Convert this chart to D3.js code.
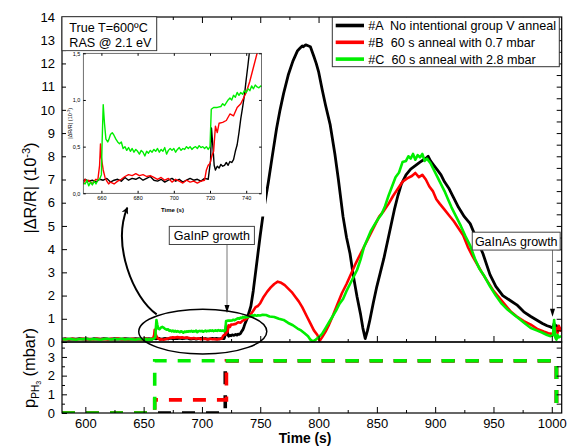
<!DOCTYPE html>
<html>
<head>
<meta charset="utf-8">
<script src="https://cdn.jsdelivr.net/npm/d3@7/dist/d3.min.js"></script>
<style>
  body { margin: 0; background: #fff; }
  svg { display: block; font-family: "Liberation Sans", Arial, sans-serif; }
</style>
</head>
<body>
<svg id="chart" width="568" height="446"></svg>
<script>
// RAS transients |ΔR/R| (10^-3) vs time (s), three anneal conditions
const seriesA = [
  [580,.12],[583,.14],[586,.11],[589,.13],[592,.12],[595,.15],[598,.12],[601,.13],[604,.11],[607,.14],
  [610,.13],[613,.12],[616,.15],[619,.13],[622,.12],[625,.14],[628,.13],[631,.12],[634,.14],[637,.13],
  [640,.12],[643,.14],[646,.13],[649,.12],[651,.15],[653,.13],[655,.14],[657,.12],[659,.15],[661,.14],
  [663,.16],[665,.12],[667,.14],[669,.15],[671,.13],[673,.17],[675,.14],[677,.16],[679,.15],[681,.17],
  [683,.14],[685,.16],[687,.18],[689,.14],[691,.13],[693,.15],[695,.12],[697,.14],[699,.16],[701,.13],
  [703,.15],[705,.12],[707,.14],[709,.16],[711,.14],[713,.15],[715,.13],[717,.16],[719,.15],[720.3,.35],
  [720.8,.7],[721.6,.5],[722.3,.3],[723,.25],[724,.29],[725,.27],[726,.31],[727,.29],[728,.3],[729,.33],
  [730,.3],[731,.34],[732,.33],[733,.36],[734,.45],[735,.52],[736,.65],[737,.8],[738,.92],[739,1.05],
  [740,1.22],[741,1.38],[742,1.55],[744,2.2],[746,3.0],[748,3.8],[750,4.6],[753,5.7],[757,6.9],[760,7.9],
  [764,9.2],[767,10.0],[770,10.7],[774,11.5],[778,12.1],[782,12.55],[784,12.65],[786,12.75],[787,12.72],
  [789,12.8],[791,12.76],[793,12.72],[796,12.3],[798,12.0],[800,11.65],[803,10.9],[806,10.2],[810,9.35],
  [814,8.1],[817,7.0],[821,5.4],[824,4.5],[827,3.8],[830,2.8],[833,1.95],[836,1.2],[838,0.6],[840,0.15],
  [842,0.5],[844,0.95],[847,1.7],[850,2.4],[853,3.0],[856,3.6],[859,4.3],[862,5.0],[865,5.7],[868,6.3],
  [871,6.8],[875,7.2],[879,7.45],[883,7.6],[887,7.75],[890,7.85],[892,7.9],[894,8.0],[896,7.8],[899,7.6],
  [902,7.4],[905,7.2],[908,6.9],[912,6.6],[916,6.2],[920,5.8],[925,5.4],[930,5.1],[935,4.5],[941,3.8],
  [947,2.9],[952,2.4],[958,2.0],[964,1.8],[970,1.6],[976,1.3],[982,1.1],[987,0.95],[992,0.8],[996,0.7],
  [999,0.65],[1001,0.6],[1002,0.8],[1003,0.4],[1004,0.7],[1005,0.5],[1006,0.6],[1008,0.55]
];

const seriesB = [
  [580,.11],[583,.13],[586,.12],[589,.14],[592,.11],[595,.13],[598,.14],[601,.12],[604,.13],[607,.11],
  [610,.14],[613,.12],[616,.13],[619,.11],[622,.14],[625,.12],[628,.15],[631,.12],[634,.13],[637,.11],
  [640,.14],[643,.12],[646,.13],[649,.11],[650,.1],[651,.15],[652,.12],[653,.14],[654,.12],[655,.1],
  [656,.13],[657,.15],[658,.14],[659,.3],[659.5,.53],[660,.38],[661,.25],[662,.17],[663,.13],[664,.1],
  [665,.12],[667,.1],[669,.13],[671,.15],[673,.18],[675,.2],[677,.19],[679,.21],[681,.19],[683,.2],
  [685,.18],[687,.19],[689,.17],[691,.15],[693,.17],[695,.14],[697,.16],[699,.12],[701,.15],[703,.13],
  [705,.11],[707,.14],[709,.12],[711,.13],[713,.11],[715,.13],[717,.14],[718,.25],[719,.3],[720,.32],
  [721,.4],[722,.45],[723,.72],[724,.65],[725,.75],[727,.76],[729,.78],[731,.85],[733,.83],[735,.92],
  [737,.96],[738,1.0],[740,1.08],[742,1.2],[744,1.35],[746,1.5],[748,1.55],[750,1.67],[753,1.95],[756,2.17],
  [759,2.35],[762,2.5],[765,2.6],[768,2.55],[771,2.45],[774,2.3],[777,2.15],[780,1.95],[783,1.75],[786,1.5],
  [790,1.1],[793,0.8],[796,0.5],[799,0.3],[801,0.05],[803,0.2],[806,0.45],[809,0.75],[812,1.1],[816,1.6],
  [820,2.1],[824,2.5],[828,2.95],[832,3.4],[836,3.8],[840,4.2],[844,4.6],[848,5.0],[852,5.4],[856,5.65],
  [860,5.95],[864,6.3],[868,6.6],[872,6.9],[876,7.05],[880,7.15],[883,7.28],[886,7.1],[889,7.2],[892,7.0],
  [895,6.7],[898,6.5],[901,6.15],[904,5.95],[908,5.7],[912,5.45],[916,5.2],[920,4.9],[924,4.6],[928,4.1],
  [932,3.7],[936,3.35],[940,3.0],[945,2.6],[950,2.2],[955,1.9],[960,1.6],[965,1.3],[970,1.1],[976,0.9],
  [982,0.75],[988,0.55],[993,0.45],[997,0.38],[1000,0.35],[1002,0.3],[1004,0.6],[1005,0.4],[1006,0.7],[1008,0.45]
];

const seriesC = [
  [580,.13],[583,.11],[586,.14],[589,.12],[592,.1],[595,.13],[598,.12],[601,.14],[604,.11],[607,.13],
  [610,.12],[613,.1],[616,.13],[619,.14],[622,.11],[625,.13],[628,.12],[631,.14],[634,.11],[637,.13],
  [640,.12],[643,.1],[646,.13],[649,.12],[651,.1],[652,.14],[653,.08],[654,.12],[655,.09],[656,.13],
  [657,.1],[658,.14],[659,.15],[660,.2],[660.4,.55],[661,.95],[661.7,.75],[662.5,.58],[663.5,.55],[664,.57],
  [665,.63],[666,.65],[667,.62],[668,.58],[669,.55],[670,.53],[671,.55],[672,.48],[673,.5],[674,.46],
  [675,.49],[676,.45],[677,.48],[678,.44],[679,.47],[680,.45],[681,.42],[682,.46],[683,.44],[684,.4],
  [685,.45],[686,.43],[687,.46],[688,.44],[689,.47],[690,.45],[691,.48],[692,.44],[693,.47],[694,.45],
  [695,.49],[696,.42],[697,.46],[698,.48],[699,.46],[700,.48],[701,.44],[702,.47],[703,.49],[704,.46],
  [705,.48],[706,.47],[707,.5],[708,.48],[709,.5],[710,.47],[711,.49],[712,.5],[713,.48],[714,.51],
  [715,.49],[716,.5],[717,.48],[718,.5],[719,.47],[720,.5],[720.7,.9],[722,.92],[724,.92],[726,.93],
  [727,.96],[728,.94],[730,1.0],[731,1.02],[732,1.0],[733,1.05],[734,1.03],[735,1.08],[736,1.05],[737,1.08],
  [738,1.06],[739,1.1],[740,1.08],[741,1.12],[742,1.1],[743,1.15],[744,1.12],[745,1.16],[746,1.14],[747,1.13],
  [748,1.15],[750,1.14],[752,1.17],[755,1.16],[758,1.1],[762,1.08],[766,1.0],[770,0.95],[774,0.82],[778,0.72],
  [782,0.58],[785,0.5],[788,0.38],[791,0.25],[793,0.1],[795,0.03],[797,0.08],[800,0.2],[803,0.35],[806,0.6],
  [809,0.85],[812,1.1],[815,1.35],[818,1.65],[821,1.85],[824,2.2],[827,2.5],[830,2.8],[833,3.1],[836,3.55],
  [839,4.1],[842,4.45],[845,4.8],[848,5.05],[851,5.3],[854,5.5],[857,5.85],[860,6.3],[863,6.7],[866,7.1],
  [869,7.3],[872,7.75],[875,7.8],[877,8.0],[879,7.9],[881,8.1],[883,7.85],[885,8.05],[887,7.95],[889,8.1],
  [891,7.8],[893,7.9],[896,7.7],[899,7.4],[902,7.1],[905,6.8],[908,6.5],[911,6.15],[914,5.8],[918,5.4],
  [922,5.0],[926,4.55],[930,4.15],[934,3.6],[938,3.15],[942,2.85],[947,2.4],[952,2.0],[957,1.65],[962,1.4],
  [967,1.2],[972,1.0],[977,0.8],[982,0.6],[987,0.5],[992,0.4],[996,0.3],[999,0.25],[1001,0.3],[1002,0.95],
  [1003,0.2],[1004,0.1],[1005,0.3],[1006,0.2],[1008,0.25]
];

// PH3 partial pressure steps (mbar)
const pressureA = [[580,0],[720,0],[720,2.8],[1004,2.8],[1004,0]];
const pressureB = [[580,0],[659.5,0],[659.5,0.7],[721,0.7],[721,2.8],[1004,2.8],[1004,0]];
const pressureC = [[580,0],[659.5,0],[659.5,2.8],[1004,2.8],[1004,0]];

const seriesNames = ["#A  No intentional group V anneal", "#B  60 s anneal with 0.7 mbar", "#C  60 s anneal with 2.8 mbar"];
const seriesColors = ["#000000", "#ff0000", "#00ee00"];

const xTicks = [600, 650, 700, 750, 800, 850, 900, 950, 1000];
const xMinorTicks = [625, 675, 725, 775, 825, 875, 925, 975];
const yTopTicks = d3.range(0, 15, 1);
const yBotTicks = [0, 1, 2, 3];
const insetXTicks = [660, 680, 700, 720, 740];
const insetYTicks = [0, 0.5, 1.0, 1.5];

const svg = d3.select("#chart");

// layout
const L = 62, R = 561.7, T = 17, MID = 342, B = 413;
const x = d3.scaleLinear().domain([580, 1008.5]).range([L, R]);
const yTop = d3.scaleLinear().domain([0, 14]).range([MID, T]);
const yBot = d3.scaleLinear().domain([0, 3.8]).range([B, MID]);

const defs = svg.append("defs");
defs.append("clipPath").attr("id", "clipTop")
  .append("rect").attr("x", L).attr("y", T).attr("width", R - L).attr("height", MID - T);
defs.append("clipPath").attr("id", "clipBot")
  .append("rect").attr("x", L).attr("y", MID).attr("width", R - L).attr("height", B - MID);
defs.append("marker").attr("id", "bigHead").attr("viewBox", "0 0 10 10")
  .attr("refX", 9).attr("refY", 5).attr("markerWidth", 9).attr("markerHeight", 7)
  .attr("markerUnits", "userSpaceOnUse").attr("orient", "auto")
  .append("path").attr("d", "M0,0 L10,5 L0,10 L3,5 Z").attr("fill", "#000");

// main transients
const lineTop = d3.line().x(d => x(d[0])).y(d => yTop(d[1]));
const gTop = svg.append("g").attr("clip-path", "url(#clipTop)");
[seriesA, seriesB, seriesC].forEach((s, i) => {
  gTop.append("path").datum(s).attr("d", lineTop)
    .attr("fill", "none").attr("stroke", seriesColors[i])
    .attr("stroke-width", i === 0 ? 2.8 : 2.6).attr("stroke-linejoin", "round");
});

// pressure steps
const lineBot = d3.line().x(d => x(d[0])).y(d => yBot(d[1]));
const gBot = svg.append("g").attr("clip-path", "url(#clipBot)");
[pressureA, pressureB, pressureC].forEach((s, i) => {
  gBot.append("path").datum(s).attr("d", lineBot)
    .attr("fill", "none").attr("stroke", seriesColors[i])
    .attr("stroke-width", 3.6).attr("stroke-dasharray", "13,11");
});

// frames
svg.append("rect").attr("x", L).attr("y", T).attr("width", R - L).attr("height", MID - T)
  .attr("fill", "none").attr("stroke", "#000").attr("stroke-width", 1.2);
svg.append("rect").attr("x", L).attr("y", MID).attr("width", R - L).attr("height", B - MID)
  .attr("fill", "none").attr("stroke", "#000").attr("stroke-width", 1.2);

function styleAxis(g, fs) {
  g.select(".domain").remove();
  g.selectAll("line").attr("stroke", "#000");
  g.selectAll("text").attr("font-size", fs).attr("fill", "#000")
    .attr("font-family", "'Liberation Sans', Arial, sans-serif");
}
const intFmt = d3.format("d");

// x axes (bottom labelled, others tick-only)
styleAxis(svg.append("g").attr("transform", `translate(0,${B})`)
  .call(d3.axisBottom(x).tickValues(xTicks).tickSize(-6).tickPadding(5.6).tickFormat(intFmt).tickSizeOuter(0)), 13);
styleAxis(svg.append("g").attr("transform", `translate(0,${B})`)
  .call(d3.axisBottom(x).tickValues(xMinorTicks).tickSize(-3).tickFormat("").tickSizeOuter(0)), 13);
styleAxis(svg.append("g").attr("transform", `translate(0,${MID})`)
  .call(d3.axisBottom(x).tickValues(xTicks).tickSize(-6).tickFormat("").tickSizeOuter(0)), 13);
styleAxis(svg.append("g").attr("transform", `translate(0,${MID})`)
  .call(d3.axisBottom(x).tickValues(xMinorTicks).tickSize(-3).tickFormat("").tickSizeOuter(0)), 13);
styleAxis(svg.append("g").attr("transform", `translate(0,${T})`)
  .call(d3.axisTop(x).tickValues(xTicks).tickSize(-6).tickFormat("").tickSizeOuter(0)), 13);
styleAxis(svg.append("g").attr("transform", `translate(0,${T})`)
  .call(d3.axisTop(x).tickValues(xMinorTicks).tickSize(-3).tickFormat("").tickSizeOuter(0)), 13);

// y axes
styleAxis(svg.append("g").attr("transform", `translate(${L},0)`)
  .call(d3.axisLeft(yTop).tickValues(yTopTicks).tickSize(-5).tickPadding(7).tickFormat(intFmt).tickSizeOuter(0)), 13);
styleAxis(svg.append("g").attr("transform", `translate(${L},0)`)
  .call(d3.axisLeft(yBot).tickValues(yBotTicks).tickSize(-5).tickPadding(7).tickFormat(intFmt).tickSizeOuter(0)), 13);
styleAxis(svg.append("g").attr("transform", `translate(${L},0)`)
  .call(d3.axisLeft(yBot).tickValues([0.5, 1.5, 2.5, 3.5]).tickSize(-3).tickFormat("").tickSizeOuter(0)), 13);
styleAxis(svg.append("g").attr("transform", `translate(${R},0)`)
  .call(d3.axisRight(yTop).tickValues(d3.range(0.5, 14, 0.5)).tickSize(-5).tickFormat("").tickSizeOuter(0)), 13);
styleAxis(svg.append("g").attr("transform", `translate(${R},0)`)
  .call(d3.axisRight(yBot).tickValues([0.5, 1, 1.5, 2, 2.5, 3, 3.5]).tickSize(-5).tickFormat("").tickSizeOuter(0)), 13);

// axis titles
svg.append("text").attr("x", 305).attr("y", 443).attr("text-anchor", "middle")
  .attr("font-size", 13.8).attr("font-weight", "bold").text("Time (s)");

const yl = svg.append("text").attr("transform", "translate(36,188) rotate(-90)")
  .attr("text-anchor", "middle").attr("font-size", 16.4);
yl.append("tspan").text("|ΔR/R| (10");
yl.append("tspan").attr("font-size", 11).attr("dy", -6.5).text("-3");
yl.append("tspan").attr("dy", 6.5).text(")");

const pl = svg.append("text").attr("transform", "translate(35,368) rotate(-90)")
  .attr("text-anchor", "middle").attr("font-size", 16.4);
pl.append("tspan").text("p");
pl.append("tspan").attr("font-size", 10).attr("dy", 4).text("PH");
pl.append("tspan").attr("font-size", 7).attr("dy", 2).text("3");
pl.append("tspan").attr("dy", -6).text(" (mbar)");

// condition box
svg.append("rect").attr("x", L).attr("y", 16.7).attr("width", 94.7).attr("height", 34)
  .attr("fill", "#fff").attr("stroke", "#333").attr("stroke-width", 1);
svg.append("text").attr("x", 69.3).attr("y", 31.5).attr("font-size", 12.6).text("True T=600ºC");
svg.append("text").attr("x", 69.3).attr("y", 46.6).attr("font-size", 12.6).text("RAS @ 2.1 eV");

// legend
const lg = svg.append("g");
lg.append("rect").attr("x", 332.3).attr("y", 17.3).attr("width", 227).attr("height", 49.4)
  .attr("fill", "#fff").attr("stroke", "#333").attr("stroke-width", 1);
seriesNames.forEach((n, i) => {
  const yy = 25.5 + i * 16.8;
  lg.append("line").attr("x1", 335.7).attr("x2", 364).attr("y1", yy).attr("y2", yy)
    .attr("stroke", seriesColors[i]).attr("stroke-width", 3.6);
  lg.append("text").attr("x", 368.3).attr("y", yy + 4.5).attr("font-size", 12.6)
    .style("white-space", "pre").text(n);
});

// inset: zoom of 650–750 s
const IL = 83.3, IR = 261.6, IT = 53.3, IB = 193.3;
const xi = d3.scaleLinear().domain([650, 748.5]).range([IL, IR]);
const yi = d3.scaleLinear().domain([0, 1.5]).range([IB, IT]);
svg.append("rect").attr("x", 66).attr("y", 51.5).attr("width", 200).attr("height", 165).attr("fill", "#fff");
defs.append("clipPath").attr("id", "clipInset")
  .append("rect").attr("x", IL).attr("y", IT).attr("width", IR - IL).attr("height", IB - IT);
const lineIn = d3.line().x(d => xi(d[0])).y(d => yi(d[1]));
const gIn = svg.append("g").attr("clip-path", "url(#clipInset)");
[seriesA, seriesB, seriesC].forEach((s, i) => {
  gIn.append("path").datum(s.filter(d => d[0] >= 645 && d[0] <= 752)).attr("d", lineIn)
    .attr("fill", "none").attr("stroke", seriesColors[i]).attr("stroke-width", 1.4)
    .attr("stroke-linejoin", "round");
});
svg.append("rect").attr("x", IL).attr("y", IT).attr("width", IR - IL).attr("height", IB - IT)
  .attr("fill", "none").attr("stroke", "#333").attr("stroke-width", 0.7);
const fmtComma = d => d.toFixed(1).replace(".", ",");
styleAxis(svg.append("g").attr("transform", `translate(0,${IB})`)
  .call(d3.axisBottom(xi).tickValues(insetXTicks).tickSize(-2.5).tickPadding(3).tickFormat(intFmt).tickSizeOuter(0)), 5.5);
styleAxis(svg.append("g").attr("transform", `translate(0,${IT})`)
  .call(d3.axisTop(xi).tickValues(insetXTicks).tickSize(-2.5).tickFormat("").tickSizeOuter(0)), 5.5);
styleAxis(svg.append("g").attr("transform", `translate(${IL},0)`)
  .call(d3.axisLeft(yi).tickValues(insetYTicks).tickSize(-2.5).tickPadding(3).tickFormat(fmtComma).tickSizeOuter(0)), 5.5);
styleAxis(svg.append("g").attr("transform", `translate(${IR},0)`)
  .call(d3.axisRight(yi).tickValues(insetYTicks).tickSize(-2.5).tickFormat("").tickSizeOuter(0)), 5.5);
svg.append("text").attr("x", (IL + IR) / 2).attr("y", 212).attr("text-anchor", "middle")
  .attr("font-size", 6).attr("font-weight", "bold").text("Time (s)");
const iyl = svg.append("text").attr("transform", `translate(71.5,${(IT + IB) / 2}) rotate(-90)`)
  .attr("text-anchor", "middle").attr("font-size", 5.5);
iyl.append("tspan").text("|ΔR/R| (10");
iyl.append("tspan").attr("font-size", 4).attr("dy", -2).text("-3");
iyl.append("tspan").attr("dy", 2).text(")");

// highlight of the anneal window and pointer to the inset
svg.append("ellipse").attr("cx", x(700.7)).attr("cy", yTop(0.45))
  .attr("rx", x(755.6) - x(700.7)).attr("ry", yTop(0) - yTop(0.965))
  .attr("fill", "none").attr("stroke", "#000").attr("stroke-width", 1.5);
svg.append("path")
  .attr("d", `M${x(661.2)},${yTop(1.19)} C${x(640.9)},${yTop(1.9)} ${x(622.9)},${yTop(4.18)} ${x(636)},${yTop(5.79)}`)
  .attr("fill", "none").attr("stroke", "#000").attr("stroke-width", 2)
  .attr("marker-end", "url(#bigHead)");

// growth annotations
function growthNote(label, t0, t1, vTop, vBot, tArrow, vTip) {
  const g = svg.append("g");
  g.append("line").attr("x1", x(tArrow)).attr("x2", x(tArrow))
    .attr("y1", yTop(vTop)).attr("y2", yTop(vTip) - 6)
    .attr("stroke", "#777").attr("stroke-width", 1);
  g.append("path")
    .attr("d", `M${x(tArrow) - 2.5},${yTop(vTip) - 8} L${x(tArrow) + 2.5},${yTop(vTip) - 8} L${x(tArrow)},${yTop(vTip)} Z`)
    .attr("fill", "#000");
  g.append("rect").attr("x", x(t0)).attr("y", yTop(vTop))
    .attr("width", x(t1) - x(t0)).attr("height", yTop(vBot) - yTop(vTop))
    .attr("fill", "#fff").attr("stroke", "#444").attr("stroke-width", 1);
  g.append("text").attr("x", (x(t0) + x(t1)) / 2).attr("y", yTop(vBot) - 4.5)
    .attr("text-anchor", "middle").attr("font-size", 12.5).text(label);
}
growthNote("GaInP growth", 672, 745, 4.98, 4.2, 721.5, 1.25);
growthNote("GaInAs growth", 931.8, 1007.2, 4.73, 3.96, 1000.6, 1.09);
</script>
</body>
</html>
